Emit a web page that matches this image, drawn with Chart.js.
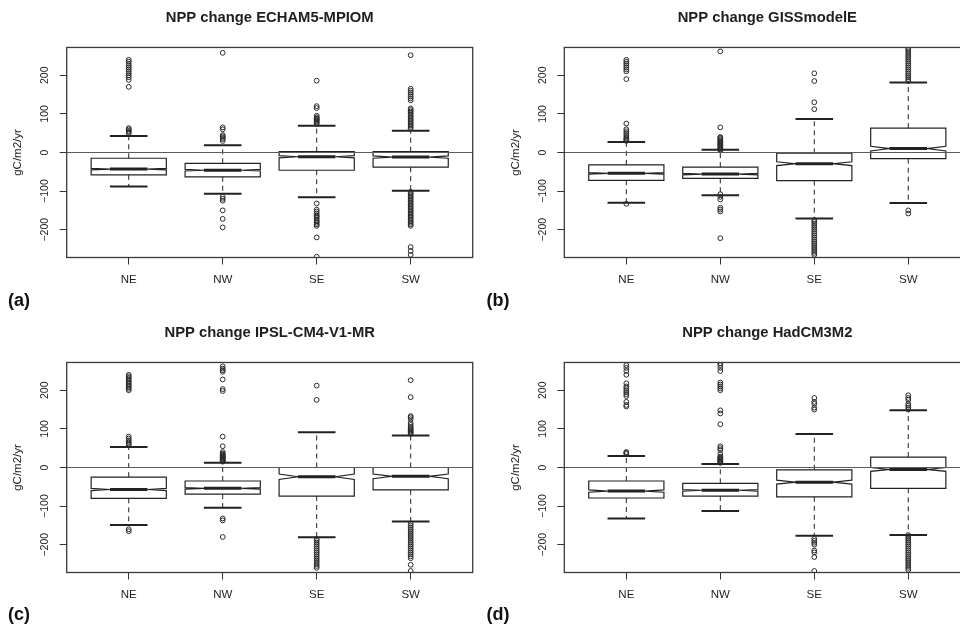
<!DOCTYPE html>
<html>
<head>
<meta charset="utf-8">
<script src="https://cdn.jsdelivr.net/npm/chart.js@4.4.0/dist/chart.umd.min.js"></script>
<style>
  html, body { margin: 0; padding: 0; background: #fff; overflow: hidden; }
  body { width: 960px; height: 637px; position: relative; }
  canvas { position: absolute; }
</style>
</head>
<body>
<canvas id="chartA" width="480" height="315" style="left:0;top:0"></canvas>
<canvas id="chartB" width="500" height="315" style="left:480px;top:0"></canvas>
<canvas id="chartC" width="480" height="322" style="left:0;top:315px"></canvas>
<canvas id="chartD" width="500" height="322" style="left:480px;top:315px"></canvas>
<script>
// --- Datos ---
const regions = ["NE", "NW", "SE", "SW"];
const yTicks = [-200, -100, 0, 100, 200];

// ECHAM5-MPIOM
const echamLow = [-88, -107, -116, -99];
const echamQ1 = [-58, -63, -46, -38];
const echamMed = [-43, -46, -11, -12];
const echamQ3 = [-15, -28, 2, 2];
const echamHigh = [43, 19, 69, 56];
const echamNotch = [2, 2, 3, 3];
const echamOut = [
  [50, 53, 56, 60, 63, 170, 188, 195, 200, 205, 210, 215, 220, 225, 230, 235, 240],
  [30, 35, 38, 42, 45, 60, 65, 258, -115, -120, -125, -150, -172, -194],
  [74, 77, 80, 83, 86, 88, 91, 95, 115, 120, 186, -132, -148, -153, -158, -163, -166, -170, -175, -178, -182, -186, -190, -220, -270],
  [62, 66, 70, 74, 78, 82, 86, 90, 94, 98, 102, 106, 110, 114, 135, 140, 145, 150, 155, 160, 165, 252,
   -102, -106, -110, -114, -118, -122, -126, -130, -134, -138, -142, -146, -150, -154, -158, -162, -166, -170,
   -174, -178, -182, -186, -190, -245, -255, -265],
];

// GISSmodelE
const gissLow = [-130, -111, -171, -131];
const gissQ1 = [-72, -67, -73, -16];
const gissMed = [-54, -56, -29, 10];
const gissQ3 = [-32, -38, -2, 63];
const gissHigh = [27, 7, 87, 181];
const gissNotch = [2, 2, 5, 6];
const gissOut = [
  [30, 33, 36, 40, 45, 50, 55, 60, 75, 190, 210, 215, 220, 225, 230, 235, 240, -133],
  [5, 8, 10, 12, 15, 18, 20, 23, 26, 29, 32, 35, 38, 40, 65, 262, -108, -115, -122, -143, -148, -153, -222],
  [112, 130, 185, 205, -175, -180, -185, -190, -195, -200, -205, -210, -215, -220, -225, -230, -235, -240,
   -245, -250, -255, -260, -265],
  [185, 190, 195, 200, 205, 210, 215, 220, 225, 230, 235, 240, 245, 250, 255, 260, 265, 270, -150, -158],
];

// IPSL-CM4-V1-MR
const ipslLow = [-149, -104, -181, -140];
const ipslQ1 = [-80, -69, -74, -58];
const ipslMed = [-57, -54, -24, -23];
const ipslQ3 = [-25, -35, 0, 0];
const ipslHigh = [53, 12, 91, 83];
const ipslNotch = [3, 2, 7, 6];
const ipslOut = [
  [58, 62, 66, 70, 75, 80, 200, 204, 208, 212, 216, 220, 224, 228, 232, 236, 240, -160, -165],
  [15, 17, 19, 21, 23, 25, 27, 29, 31, 33, 36, 40, 55, 80, 198, 203, 228, 248, 252, 256, 262, -132, -137, -180],
  [175, 212, -185, -190, -195, -200, -205, -210, -215, -220, -225, -230, -235, -240, -245, -250, -255, -260],
  [87, 90, 93, 96, 99, 102, 105, 110, 115, 125, 130, 133, 182, 226, -145, -150, -155, -160, -165, -170,
   -175, -180, -185, -190, -195, -200, -205, -210, -215, -220, -225, -230, -235, -252, -268],
];

// HadCM3M2
const hadLow = [-132, -113, -177, -175];
const hadQ1 = [-79, -74, -76, -54];
const hadMed = [-61, -59, -38, -5];
const hadQ3 = [-35, -41, -6, 27];
const hadHigh = [30, 9, 87, 148];
const hadNotch = [3, 2, 5, 5];
const hadOut = [
  [35, 38, 40, 158, 162, 170, 185, 190, 195, 200, 205, 210, 218, 240, 250, 258, 265],
  [12, 14, 16, 18, 20, 22, 24, 26, 28, 35, 45, 50, 55, 112, 140, 148, 200, 205, 210, 215, 220, 250, 258, 265, 270],
  [150, 155, 165, 170, 180, -185, -190, -195, -200, -215, -220, -232, -268],
  [150, 155, 160, 165, 175, 180, 187, -175, -180, -185, -190, -195, -200, -205, -210, -215, -220, -225,
   -230, -235, -240, -245, -250, -255, -260, -265],
];

// --- Estilos ---
const fontFamily = "'Liberation Sans', Arial, Helvetica, sans-serif";
const lineColor = "#222";
const frameColor = "#3a3a3a";
const zeroColor = "#5c5c5c";
const textColor = "#1e1e1e";
const boxHalf = 0.4;    // boxwex 0.8
const stapleHalf = 0.2; // staplewex 0.5

Chart.defaults.font.family = fontFamily;

/**
 * Plugin que dibuja las cajas con muesca, bigotes, línea cero, marco y etiqueta del panel
 */
function boxPlugin(st, panelLabel) {
  return {
    id: "notchedBoxes",
    beforeDatasetsDraw(chart) {
      const { ctx, scales: { x, y } } = chart;
      ctx.save();
      ctx.strokeStyle = lineColor;
      regions.forEach((r, i) => {
        const xc = x.getPixelForValue(i + 1);
        const hw = x.getPixelForValue(i + 1 + boxHalf) - xc;
        const sw = x.getPixelForValue(i + 1 + stapleHalf) - xc;
        const pLo = y.getPixelForValue(st.low[i]);
        const pQ1 = y.getPixelForValue(st.q1[i]);
        const pMed = y.getPixelForValue(st.med[i]);
        const pQ3 = y.getPixelForValue(st.q3[i]);
        const pHi = y.getPixelForValue(st.high[i]);
        const pNLo = y.getPixelForValue(st.med[i] - st.notch[i]);
        const pNHi = y.getPixelForValue(st.med[i] + st.notch[i]);

        // bigotes discontinuos
        ctx.lineWidth = 1;
        ctx.setLineDash([5, 4]);
        ctx.beginPath();
        ctx.moveTo(xc, pQ3);
        ctx.lineTo(xc, pHi);
        ctx.moveTo(xc, pQ1);
        ctx.lineTo(xc, pLo);
        ctx.stroke();
        ctx.setLineDash([]);

        // topes
        ctx.lineWidth = 2;
        ctx.beginPath();
        ctx.moveTo(xc - sw, pHi);
        ctx.lineTo(xc + sw, pHi);
        ctx.moveTo(xc - sw, pLo);
        ctx.lineTo(xc + sw, pLo);
        ctx.stroke();

        // caja con muesca
        ctx.lineWidth = 1.2;
        ctx.beginPath();
        ctx.moveTo(xc - hw, pQ1);
        ctx.lineTo(xc + hw, pQ1);
        ctx.lineTo(xc + hw, pNLo);
        ctx.lineTo(xc + hw / 2, pMed);
        ctx.lineTo(xc + hw, pNHi);
        ctx.lineTo(xc + hw, pQ3);
        ctx.lineTo(xc - hw, pQ3);
        ctx.lineTo(xc - hw, pNHi);
        ctx.lineTo(xc - hw / 2, pMed);
        ctx.lineTo(xc - hw, pNLo);
        ctx.closePath();
        ctx.stroke();

        // mediana
        ctx.lineWidth = 3;
        ctx.beginPath();
        ctx.moveTo(xc - hw / 2, pMed);
        ctx.lineTo(xc + hw / 2, pMed);
        ctx.stroke();
      });
      ctx.restore();
    },
    afterDatasetsDraw(chart) {
      const { ctx, chartArea: a, scales: { y } } = chart;
      ctx.save();
      // línea horizontal en cero
      const y0 = y.getPixelForValue(0);
      ctx.strokeStyle = zeroColor;
      ctx.lineWidth = 1.2;
      ctx.beginPath();
      ctx.moveTo(a.left, y0);
      ctx.lineTo(a.right, y0);
      ctx.stroke();
      // marco
      ctx.strokeStyle = frameColor;
      ctx.lineWidth = 1.3;
      ctx.strokeRect(a.left, a.top, a.right - a.left, a.bottom - a.top);
      ctx.restore();
    },
    afterDraw(chart) {
      const { ctx } = chart;
      ctx.save();
      ctx.fillStyle = "#111";
      ctx.font = "bold 18px " + fontFamily;
      ctx.textBaseline = "middle";
      ctx.textAlign = "left";
      ctx.fillText(panelLabel.text, panelLabel.x, panelLabel.y);
      ctx.restore();
    },
  };
}

/**
 * Crea un panel de boxplot
 */
function makePanel(canvasId, title, st, geo, panelLabel) {
  const ctx = document.getElementById(canvasId).getContext("2d");
  const points = st.out.flatMap((vals, i) => vals.map((v) => ({ x: i + 1, y: v })));

  return new Chart(ctx, {
    type: "scatter",
    data: {
      datasets: [
        {
          data: points,
          pointStyle: "circle",
          pointRadius: 2.4,
          borderWidth: 1,
          borderColor: "#2a2a2a",
          backgroundColor: "rgba(0,0,0,0)",
          clip: 0,
        },
      ],
    },
    options: {
      responsive: false,
      animation: false,
      events: [],
      layout: { padding: { left: 0, right: geo.padRight, top: 0, bottom: 0 } },
      plugins: {
        legend: { display: false },
        tooltip: { enabled: false },
        title: {
          display: true,
          text: title,
          fullSize: false,
          color: textColor,
          font: { size: 14.8, weight: "bold" },
          padding: { top: 9.5, bottom: 20.2 },
        },
      },
      scales: {
        x: {
          type: "linear",
          min: 0.34,
          max: 4.66,
          afterBuildTicks: (s) => {
            s.ticks = regions.map((_, i) => ({ value: i + 1 }));
          },
          afterFit: (s) => {
            s.height = geo.xAxisH;
          },
          ticks: {
            callback: (v) => regions[v - 1],
            color: textColor,
            font: { size: 11.5 },
            padding: 8,
            autoSkip: false,
            maxRotation: 0,
          },
          grid: { drawOnChartArea: false, drawTicks: true, tickLength: 7, color: "#333" },
          border: { display: false },
        },
        y: {
          min: -272,
          max: 272,
          afterBuildTicks: (s) => {
            s.ticks = yTicks.map((v) => ({ value: v }));
          },
          afterFit: (s) => {
            s.width = geo.plotLeft;
          },
          ticks: {
            callback: (v) => String(v).replace("-", "\u2212"),
            minRotation: 90,
            maxRotation: 90,
            crossAlign: "center",
            padding: 2.5,
            color: textColor,
            font: { size: 10.5 },
          },
          grid: { drawOnChartArea: false, drawTicks: true, tickLength: 7, color: "#333" },
          border: { display: false },
          title: {
            display: true,
            text: "gC/m2/yr",
            color: textColor,
            font: { size: 11.5 },
            padding: { top: geo.plotLeft - 48.4 - 6.9, bottom: 0 },
          },
        },
      },
    },
    plugins: [boxPlugin(st, panelLabel)],
  });
}

document.addEventListener("DOMContentLoaded", () => {
  makePanel(
    "chartA",
    "NPP change ECHAM5-MPIOM",
    { low: echamLow, q1: echamQ1, med: echamMed, q3: echamQ3, high: echamHigh, notch: echamNotch, out: echamOut },
    { plotLeft: 66.7, padRight: 7.3, xAxisH: 57.5 },
    { text: "(a)", x: 8, y: 301 }
  );
  makePanel(
    "chartB",
    "NPP change GISSmodelE",
    { low: gissLow, q1: gissQ1, med: gissMed, q3: gissQ3, high: gissHigh, notch: gissNotch, out: gissOut },
    { plotLeft: 84.3, padRight: 9.7, xAxisH: 57.5 },
    { text: "(b)", x: 6.5, y: 301 }
  );
  makePanel(
    "chartC",
    "NPP change IPSL-CM4-V1-MR",
    { low: ipslLow, q1: ipslQ1, med: ipslMed, q3: ipslQ3, high: ipslHigh, notch: ipslNotch, out: ipslOut },
    { plotLeft: 66.7, padRight: 7.3, xAxisH: 64.5 },
    { text: "(c)", x: 8, y: 300 }
  );
  makePanel(
    "chartD",
    "NPP change HadCM3M2",
    { low: hadLow, q1: hadQ1, med: hadMed, q3: hadQ3, high: hadHigh, notch: hadNotch, out: hadOut },
    { plotLeft: 84.3, padRight: 9.7, xAxisH: 64.5 },
    { text: "(d)", x: 6.5, y: 300 }
  );
});
</script>
</body>
</html>
